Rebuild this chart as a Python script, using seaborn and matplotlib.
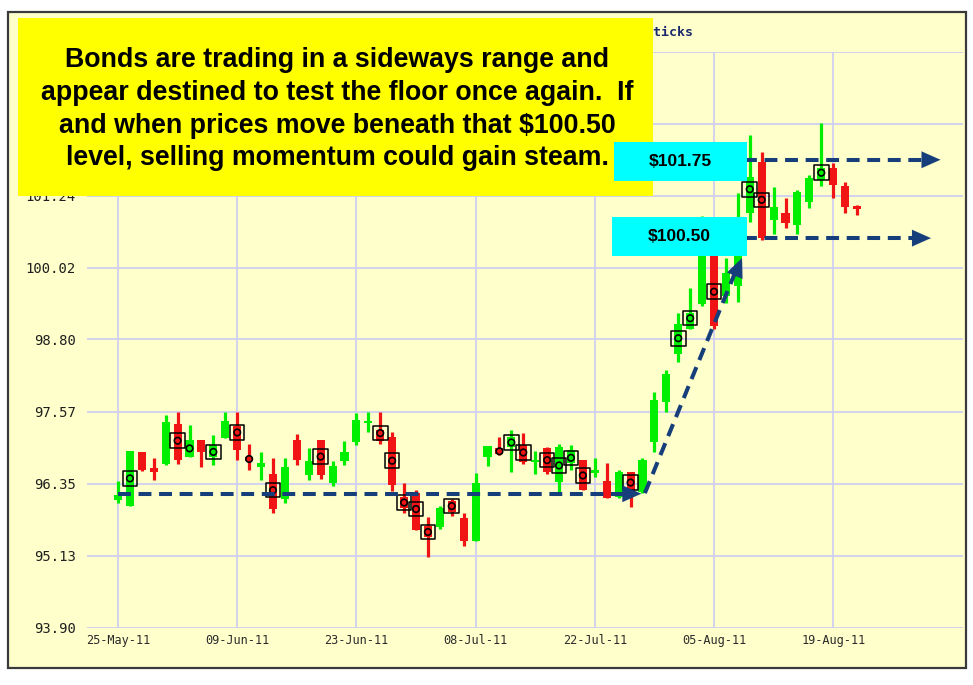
import numpy as np
import pandas as pd
import matplotlib
matplotlib.use("Agg")
import matplotlib.pyplot as plt
import seaborn as sns
from matplotlib.patches import Rectangle
from matplotlib import font_manager as fm

# ---------------- data ----------------
opens = [96.07, 95.97, 96.88, 96.61, 96.68, 97.36, 96.81, 97.10, 96.80, 97.12,
         97.33, 96.81, 96.64, 96.51, 96.09, 97.10, 96.50, 97.09, 96.37, 96.74,
         97.05, 97.38, 97.27, 97.14, 96.13, 96.19, 95.63, 95.62, 96.06, 95.76,
         95.38, 96.81, 96.95, 96.98, 97.01, 96.72, 96.95, 96.38, 96.70, 96.75,
         96.54, 96.40, 96.13, 96.55, 96.21, 97.06, 97.74, 98.55, 98.97, 99.40,
         100.30, 99.53, 99.70, 100.95, 101.82, 100.83, 100.94, 100.74, 101.14, 101.51,
         101.71, 101.40, 101.07]
highs = [96.40, 96.91, 96.89, 96.78, 97.52, 97.56, 97.35, 97.10, 97.18, 97.56,
         97.56, 97.02, 96.88, 96.78, 96.78, 97.19, 96.96, 97.09, 96.74, 97.08,
         97.55, 97.56, 97.56, 97.22, 96.36, 96.24, 95.79, 95.97, 96.09, 95.86,
         96.53, 96.99, 97.14, 97.26, 97.21, 96.91, 96.98, 97.03, 97.01, 96.75,
         96.79, 96.70, 96.59, 96.55, 96.79, 97.91, 98.28, 99.25, 99.67, 100.90,
         100.45, 100.18, 101.29, 102.27, 101.99, 101.38, 101.20, 101.34, 101.59, 102.48,
         101.79, 101.48, 101.08]
lows = [96.02, 95.97, 96.57, 96.41, 96.66, 96.68, 96.81, 96.64, 96.66, 97.12,
        96.75, 96.58, 96.41, 95.85, 96.02, 96.66, 96.42, 96.43, 96.31, 96.67,
        97.00, 97.22, 97.02, 96.23, 95.85, 95.56, 95.11, 95.58, 95.80, 95.30,
        95.38, 96.65, 96.84, 96.55, 96.68, 96.51, 96.51, 96.21, 96.58, 96.24,
        96.47, 96.10, 96.10, 95.96, 96.19, 96.88, 97.56, 98.41, 98.97, 99.37,
        98.98, 99.42, 99.44, 100.80, 100.49, 100.59, 100.69, 100.59, 101.03, 101.40,
        101.20, 100.95, 100.92]
closes = [96.16, 96.91, 96.58, 96.55, 97.40, 96.76, 97.10, 96.89, 97.00, 97.42,
          96.93, 96.74, 96.70, 95.92, 96.64, 96.75, 96.74, 96.50, 96.65, 96.89,
          97.43, 97.42, 97.08, 96.33, 95.93, 95.56, 95.45, 95.93, 95.87, 95.37,
          96.36, 96.99, 96.85, 97.15, 96.72, 96.76, 96.55, 96.98, 96.92, 96.24,
          96.58, 96.10, 96.55, 96.19, 96.75, 97.77, 98.21, 99.06, 99.24, 100.60,
          99.02, 99.93, 100.80, 101.55, 100.52, 101.05, 100.77, 101.31, 101.54, 101.71,
          101.42, 101.04, 101.01]

# boxed signal markers (trading-day index, price)
box_idx = [1, 5, 8, 10, 13, 17, 22, 23, 24, 25, 26, 28, 33, 34, 36, 37, 38, 39,
           43, 47, 48, 50, 53, 54, 59]
box_val = [96.44, 97.08, 96.89, 97.22, 96.24, 96.81, 97.21, 96.74, 96.03, 95.92,
           95.53, 95.97, 97.05, 96.88, 96.75, 96.66, 96.79, 96.49, 96.37, 98.82,
           99.16, 99.61, 101.35, 101.17, 101.63]
# unboxed circle markers
circ_idx = [6, 11, 32]
circ_val = [96.95, 96.77, 96.90]

# gridline levels; the two top levels are hidden behind the note box, so unlabelled
ytick_vals = [93.90, 95.13, 96.35, 97.57, 98.80, 100.02, 101.24, 102.46, 103.68]
ytick_labels = ["93.90", "95.13", "96.35", "97.57", "98.80", "100.02", "101.24", "", ""]
xtick_idx = [0, 10, 20, 30, 40, 50, 60]

level_hi = 101.85      # "$101.75" line as drawn
level_lo = 100.52      # "$100.50" line as drawn
floor_level = 96.18    # sideways-range floor line

dates = pd.bdate_range("2011-05-25", "2011-08-23").drop(pd.to_datetime(["2011-05-30", "2011-07-04"]))
xtick_labels = [dates[i].strftime("%d-%b-%y") for i in xtick_idx]

# ---------------- style ----------------
sns.set_theme(style="white")
plt.rcParams["font.family"] = ["DejaVu Sans"]

W, H = 973, 685
BG = "#FFFFCC"
GRID = "#CFCFF2"
GREEN = "#00EE00"
RED = "#F01414"
NAVY = "#153E7A"

fig = plt.figure(figsize=(W / 100, H / 100), dpi=100)
fig.patch.set_facecolor("white")

# outer panel frame
fig.patches.append(Rectangle((8 / W, 1 - 668 / H), (966 - 8) / W, (668 - 12) / H,
                             transform=fig.transFigure, fc=BG, ec="#3a3a3a", lw=1.6, zorder=-1))

ax = fig.add_axes([87 / W, 1 - 628 / H, (963 - 87) / W, (628 - 52) / H])
ax.patch.set_visible(False)
step = 11.92
ax.set_xlim((87 - 118) / step, (963 - 118) / step)
ax.set_ylim(93.90, 103.68)

for v in ytick_vals:
    ax.axhline(v, color=GRID, lw=1.3, zorder=1)
for i in xtick_idx:
    ax.axvline(i, color=GRID, lw=1.3, zorder=1)

x = np.arange(len(opens))
o = np.array(opens); c = np.array(closes); hi = np.array(highs); lo = np.array(lows)
cols = [GREEN if cc >= oo else RED for oo, cc in zip(o, c)]
ax.vlines(x, lo, hi, colors=cols, lw=2.3, zorder=3)
body = np.maximum(np.abs(c - o), 0.04)
ax.bar(x, body, bottom=np.minimum(o, c), width=0.68, color=cols, lw=0, zorder=3)

# markers via seaborn
mk = pd.DataFrame({"i": box_idx, "v": box_val})
sns.scatterplot(data=mk, x="i", y="v", marker="s", s=110, ax=ax, zorder=5, legend=False)
ax.collections[-1].set_facecolor("none"); ax.collections[-1].set_edgecolor("black")
ax.collections[-1].set_linewidth(1.1)
allc = pd.DataFrame({"i": box_idx + circ_idx, "v": box_val + circ_val})
sns.scatterplot(data=allc, x="i", y="v", marker="o", s=22, ax=ax, zorder=6, legend=False)
ax.collections[-1].set_facecolor("none"); ax.collections[-1].set_edgecolor("black")
ax.collections[-1].set_linewidth(1.2)

# dashed annotation lines
dkw = dict(color=NAVY, lw=2.9, dashes=(3.2, 1.9), zorder=7, solid_capstyle="butt", dash_capstyle="butt")
ax.plot([0, 43.3], [floor_level, floor_level], **dkw)
ax.plot([44.2, 51.9], [96.19, 100.0], **dkw)
ax.plot([52.5, 68.3], [level_hi, level_hi], **dkw)
ax.plot([52.5, 67.4], [level_lo, level_lo], **dkw)

def head(tip, back):
    ax.annotate("", xy=tip, xytext=back,
                arrowprops=dict(arrowstyle="-|>,head_length=1.35,head_width=0.6",
                                mutation_scale=10, fc=NAVY, ec=NAVY, lw=0.1,
                                shrinkA=0, shrinkB=0), zorder=8)

head((43.9, floor_level), (43.0, floor_level))
head((52.35, 100.18), (51.9, 99.96))
head((69.0, level_hi), (68.0, level_hi))
head((68.2, level_lo), (67.2, level_lo))

ax.set_yticks(ytick_vals)
ax.set_yticklabels(ytick_labels, family="DejaVu Sans Mono", fontsize=10, color="#1e1e1e")
ax.set_xticks(xtick_idx)
ax.set_xticklabels(xtick_labels, family="DejaVu Sans Mono", fontsize=8.6, color="#2a2a2a")
ax.tick_params(axis="y", length=0, pad=8)
ax.tick_params(axis="x", length=0, pad=4)
ax.set_xlabel("")
ax.set_ylabel("")
for s in ax.spines.values():
    s.set_visible(False)
ax.grid(False)

# chart title (mostly covered by the note box)
fig.text(693 / W, 1 - 32 / H, "TLT Daily Candlesticks", ha="right", va="center",
         family="DejaVu Sans Mono", fontweight="bold", fontsize=9.5, color="#1a2a6c", zorder=1)

# yellow note box
fig.patches.append(Rectangle((18 / W, 1 - 196 / H), (653 - 18) / W, (196 - 18) / H,
                             transform=fig.transFigure, fc="#FFFF00", ec="none", zorder=10))
avail = {f.name for f in fm.fontManager.ttflist}
if "Liberation Sans Narrow" in avail:
    nfam, nsize = "Liberation Sans Narrow", 22
else:
    nfam, nsize = "Liberation Sans", 19.3
note = ["Bonds are trading in a sideways range and",
        "appear destined to test the floor once again.  If",
        "and when prices move beneath that $100.50",
        "level, selling momentum could gain steam."]
for k, (line, yc) in enumerate(zip(note, [60, 93, 126, 158])):
    fig.text(337 / W, 1 - yc / H, line, ha="center", va="center", family=nfam,
             fontweight="bold", fontsize=nsize, color="black", zorder=11)

# cyan level boxes
for (x0, x1, y0, y1, lab) in [(614, 747, 142, 181, "$101.75"), (612, 747, 217, 256, "$100.50")]:
    fig.patches.append(Rectangle((x0 / W, 1 - y1 / H), (x1 - x0) / W, (y1 - y0) / H,
                                 transform=fig.transFigure, fc="#00FFFF", ec="none", zorder=10))
    fig.text((x0 + x1) / 2 / W, 1 - (y0 + y1) / 2 / H, lab, ha="center", va="center",
             family="Liberation Sans", fontweight="bold", fontsize=12.5, color="black", zorder=11)

fig.savefig("out.png", dpi=100)
